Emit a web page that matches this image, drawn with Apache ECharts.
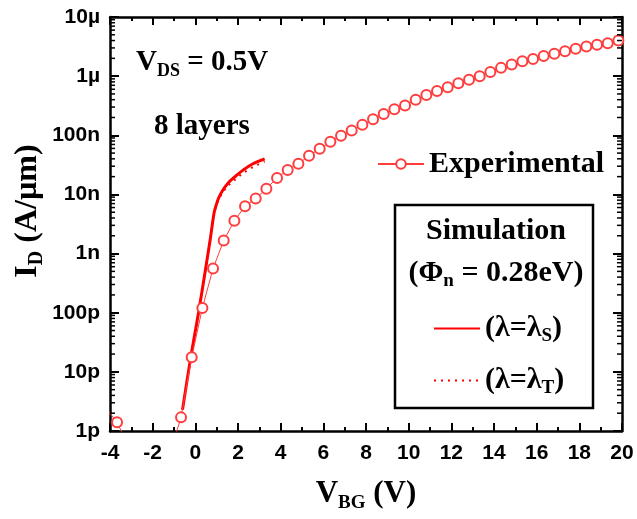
<!DOCTYPE html>
<html>
<head>
<meta charset="utf-8">
<script src="https://cdn.jsdelivr.net/npm/echarts@6/dist/echarts.min.js"></script>
<style>
  html, body { margin: 0; padding: 0; background: #fff; }
  #chart { width: 637px; height: 519px; }
</style>
</head>
<body>
<div id="chart"></div>
<script>
// Back-gate voltage sweep (V) and measured drain current (A/µm)
const expVbg = [-4.17, -3.67, -3.17, -2.67, -2.17, -1.67, -1.17, -0.67, -0.17, 0.33, 0.83, 1.33, 1.83,
  2.33, 2.83, 3.33, 3.83, 4.33, 4.83, 5.33, 5.83, 6.33, 6.83, 7.33, 7.83, 8.33, 8.83, 9.33, 9.83,
  10.33, 10.83, 11.33, 11.83, 12.33, 12.83, 13.33, 13.83, 14.33, 14.83, 15.33, 15.83, 16.33, 16.83,
  17.33, 17.83, 18.33, 18.83, 19.33, 19.83];
const expId = [2.4e-12, 1.4e-12, 0.6e-12, 0.95e-12, 0.5e-12, 0.4e-12, 0.45e-12, 1.7e-12, 1.77e-11, 1.2e-10,
  5.6e-10, 1.66e-9, 3.6e-9, 6.3e-9, 8.5e-9, 1.25e-8, 1.9e-8, 2.6e-8, 3.3e-8, 4.5e-8, 5.9e-8, 7.8e-8,
  9.8e-8, 1.2e-7, 1.5e-7, 1.86e-7, 2.3e-7, 2.75e-7, 3.2e-7, 4.0e-7, 4.8e-7, 5.6e-7, 6.5e-7, 7.6e-7,
  8.7e-7, 1.0e-6, 1.17e-6, 1.38e-6, 1.58e-6, 1.78e-6, 1.95e-6, 2.2e-6, 2.4e-6, 2.63e-6, 2.9e-6,
  3.16e-6, 3.4e-6, 3.6e-6, 4.0e-6];

// Simulated curves (Φn = 0.28 eV)
const simVbg = [-0.6, -0.2, 0.15, 0.45, 0.7, 0.88, 1.0, 1.1, 1.3, 1.55, 1.9, 2.25, 2.7, 3.25];
const simIdS = [2.3e-12, 1.9e-11, 1.0e-10, 4.7e-10, 1.75e-9, 4.9e-9, 7.0e-9, 8.8e-9, 1.2e-8, 1.58e-8,
  2.05e-8, 2.6e-8, 3.3e-8, 4.0e-8];
const simIdT = [2.3e-12, 1.9e-11, 1.0e-10, 4.7e-10, 1.75e-9, 4.8e-9, 6.7e-9, 8.3e-9, 1.1e-8, 1.42e-8,
  1.82e-8, 2.3e-8, 2.9e-8, 3.6e-8];

// Decade tick labels of the current axis, from 1e-12 upwards
const yTickLabels = ['1p', '10p', '100p', '1n', '10n', '100n', '1µ', '10µ'];
const yMinExp = -12, yMaxExp = -5;
const yMin = 1e-12, yMax = 1e-5;

const pair = (xs, ys) => xs.map((x, i) => [x, ys[i]]);

const serif = 'Liberation Serif';
const sans = 'Liberation Sans';
const red = '#ff0000';
const expRed = '#ff3d3d';

const chart = echarts.init(document.getElementById('chart'));

const xCommon = {
  type: 'value', min: -4, max: 20, interval: 2,
  axisLine: { show: true, onZero: false, lineStyle: { color: '#000', width: 2.5 } },
  axisTick: { show: true, inside: true, length: 8, lineStyle: { color: '#000', width: 2 } },
  minorTick: { show: true, splitNumber: 2, length: 4, lineStyle: { color: '#000', width: 2 } },
  splitLine: { show: false }
};
const yCommon = {
  type: 'log', logBase: 10, min: yMin, max: yMax, interval: 1,
  axisLine: { show: true, onZero: false, lineStyle: { color: '#000', width: 2.5 } },
  axisTick: { show: true, inside: true, length: 9, lineStyle: { color: '#000', width: 2 } },
  splitLine: { show: false }
};

// bold serif text with a lowered, smaller subscript token
const subRich = (size, drop) => ({
  a: { fontFamily: serif, fontWeight: 'bold', fontSize: size, color: '#000', lineHeight: size + 4 },
  s: { fontFamily: serif, fontWeight: 'bold', fontSize: Math.round(size * 0.62), color: '#000',
       lineHeight: Math.round(size * 0.62), padding: [drop * 2, 0, 0, 0] }
});

const legendLabels = {
  'λS': '{a|(λ=λ}{s|S}{a|)}',
  'λT': '{a|(λ=λ}{s|T}{a|)}'
};

const yLabel = v => {
  const s = yTickLabels[Math.round(Math.log10(v)) - yMinExp];
  return s === undefined ? '' : s;
};

chart.setOption({
  animation: false,
  grid: { left: 110, right: 15, top: 17, bottom: 88 },
  xAxis: [
    Object.assign({}, xCommon, {
      position: 'bottom',
      axisLabel: { show: true, margin: 12, color: '#000', fontFamily: sans, fontWeight: 'bold', fontSize: 21 }
    }),
    Object.assign({}, xCommon, { position: 'top', axisLabel: { show: false } })
  ],
  yAxis: [
    Object.assign({}, yCommon, {
      position: 'left',
      axisLabel: { show: true, margin: 10, color: '#000', fontFamily: sans, fontWeight: 'bold', fontSize: 21,
                   formatter: yLabel }
    }),
    Object.assign({}, yCommon, { position: 'right', axisLabel: { show: false } })
  ],
  legend: [
    {
      data: ['Experimental'],
      left: 372, top: 144, orient: 'vertical',
      itemWidth: 46, itemHeight: 12,
      textStyle: { fontFamily: serif, fontWeight: 'bold', fontSize: 30, color: '#000' }
    },
    {
      data: ['λS', 'λT'],
      left: 428, top: 306, orient: 'vertical', itemGap: 17,
      itemWidth: 46, itemHeight: 14,
      itemStyle: { opacity: 0 },
      formatter: name => legendLabels[name],
      textStyle: { rich: subRich(30, 8) }
    }
  ],
  graphic: [
    { type: 'rect', shape: { x: 395, y: 205, width: 198, height: 203 },
      style: { fill: 'rgba(0,0,0,0)', stroke: '#000', lineWidth: 2.5 }, z: 10 },
    { type: 'text', x: 496, y: 231, z: 11,
      style: { text: 'Simulation', fontFamily: serif, fontWeight: 'bold', fontSize: 30, fill: '#000',
               align: 'center', verticalAlign: 'middle' } },
    { type: 'text', x: 496, y: 273, z: 11,
      style: { text: '{a|(Φ}{s|n}{a| = 0.28eV)}', rich: subRich(30, 8), align: 'center', verticalAlign: 'middle' } },
    { type: 'text', x: 136, y: 63, z: 11,
      style: { text: '{a|V}{s|DS}{a| = 0.5V}', rich: subRich(29, 8), align: 'left', verticalAlign: 'middle' } },
    { type: 'text', x: 154, y: 127, z: 11,
      style: { text: '8 layers', fontFamily: serif, fontWeight: 'bold', fontSize: 29, fill: '#000',
               align: 'left', verticalAlign: 'middle' } },
    { type: 'text', x: 28, y: 211, rotation: Math.PI / 2, z: 11,
      style: { text: '{a|I}{s|D}{a| (A/µm)}', rich: subRich(32, 9), align: 'center', verticalAlign: 'middle' } },
    { type: 'text', x: 366, y: 494, z: 11,
      style: { text: '{a|V}{s|BG}{a| (V)}', rich: subRich(31, 9), align: 'center', verticalAlign: 'middle' } }
  ],
  series: [
    {
      name: 'λT', type: 'line', data: pair(simVbg, simIdT),
      smooth: 0.3, showSymbol: false, symbol: 'none',
      lineStyle: { color: red, width: 2, type: [2, 5] }, itemStyle: { color: red }, z: 3
    },
    {
      name: 'λS', type: 'line', data: pair(simVbg, simIdS),
      smooth: 0.3, showSymbol: false, symbol: 'none',
      lineStyle: { color: red, width: 3 }, itemStyle: { color: red }, z: 4
    },
    {
      name: 'Experimental', type: 'line', data: pair(expVbg, expId),
      symbol: 'emptyCircle', symbolSize: 10,
      lineStyle: { color: expRed, width: 1 },
      itemStyle: { color: expRed, borderColor: expRed, borderWidth: 1.5 }, z: 5
    },
    {
      // logarithmic minor ticks (2..9 per decade) on the left and right frame
      name: 'yMinorTicks', type: 'custom', coordinateSystem: 'cartesian2d',
      data: [[0, 1e-9]], silent: true, clip: false, z: 6,
      renderItem: (params, api) => {
        const children = [];
        for (let e = yMinExp; e < yMaxExp; e++) {
          for (let m = 2; m <= 9; m++) {
            const v = Number(m + 'e' + e);
            const pl = api.coord([-4, v]);
            const pr = api.coord([20, v]);
            children.push({ type: 'line', shape: { x1: pl[0], y1: pl[1], x2: pl[0] + 5, y2: pl[1] },
                            style: { stroke: '#000', lineWidth: 1.5 } });
            children.push({ type: 'line', shape: { x1: pr[0], y1: pr[1], x2: pr[0] - 5, y2: pr[1] },
                            style: { stroke: '#000', lineWidth: 1.5 } });
          }
        }
        return { type: 'group', children };
      }
    }
  ]
});
</script>
</body>
</html>
